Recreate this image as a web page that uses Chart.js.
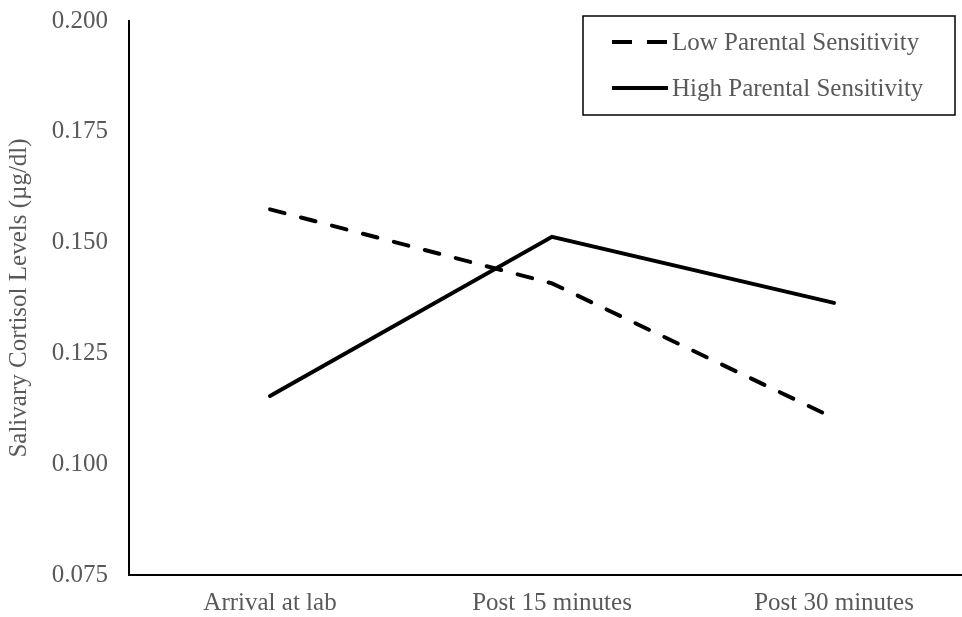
<!DOCTYPE html>
<html>
<head>
<meta charset="utf-8">
<script src="https://cdn.jsdelivr.net/npm/chart.js@4"></script>
<style>
    html, body { margin: 0; padding: 0; background: #ffffff; }
    #wrap { width: 962px; height: 617px; overflow: hidden; position: relative; }
    #chart { display: block; }
</style>
</head>
<body>
<div id="wrap">
    <canvas id="chart" width="975" height="617"></canvas>
</div>
<script>
const categories = ["Arrival at lab", "Post 15 minutes", "Post 30 minutes"];
const lowSensitivity = [0.1575, 0.1408, 0.1104];
const highSensitivity = [0.1154, 0.1513, 0.1364];
const seriesNames = ["Low Parental Sensitivity", "High Parental Sensitivity"];
const yTicks = [0.075, 0.100, 0.125, 0.150, 0.175, 0.200];

const textColor = "#595959";
const serif = "'Liberation Serif', 'Times New Roman', serif";

// legend with a border box, like the Excel original
const boxedLegend = {
    id: "boxedLegend",
    afterDraw(chart) {
        const ctx = chart.ctx;
        const box = { x: 583, y: 16, w: 372, h: 99 };
        ctx.save();
        ctx.strokeStyle = "#000000";
        ctx.lineWidth = 1.5;
        ctx.strokeRect(box.x, box.y, box.w, box.h);

        chart.data.datasets.forEach((ds, i) => {
            const y = box.y + 26 + i * 46;
            ctx.beginPath();
            ctx.lineWidth = 4;
            ctx.strokeStyle = ds.borderColor;
            ctx.lineCap = "butt";
            ctx.setLineDash(ds.borderDash && ds.borderDash.length ? [20, 15] : []);
            ctx.moveTo(box.x + 29, y);
            ctx.lineTo(box.x + 85, y);
            ctx.stroke();
            ctx.setLineDash([]);

            ctx.fillStyle = textColor;
            ctx.font = "25px " + serif;
            ctx.textBaseline = "middle";
            ctx.textAlign = "left";
            ctx.fillText(ds.label, box.x + 89, y + 1);
        });
        ctx.restore();
    },
};

new Chart(document.getElementById("chart"), {
    type: "line",
    data: {
        labels: categories,
        datasets: [
            {
                label: seriesNames[0],
                data: lowSensitivity,
                borderColor: "#000000",
                borderWidth: 4,
                borderDash: [15, 17],
                borderCapStyle: "round",
                pointRadius: 0,
                fill: false,
                tension: 0,
            },
            {
                label: seriesNames[1],
                data: highSensitivity,
                borderColor: "#000000",
                borderWidth: 4,
                borderCapStyle: "round",
                pointRadius: 0,
                fill: false,
                tension: 0,
            },
        ],
    },
    options: {
        responsive: false,
        animation: false,
        layout: {
            padding: { top: 21, right: 0, bottom: 0, left: 0 },
        },
        plugins: {
            legend: { display: false },
            tooltip: { enabled: false },
        },
        scales: {
            x: {
                offset: true,
                afterFit(scale) {
                    scale.height = 42;
                    scale.paddingLeft = 0;
                    scale.paddingRight = 0;
                },
                grid: { display: false, drawTicks: false },
                border: { display: true, color: "#000000", width: 2 },
                ticks: {
                    color: textColor,
                    padding: 13,
                    maxRotation: 0,
                    font: { family: serif, size: 25 },
                },
            },
            y: {
                min: 0.075,
                max: 0.2,
                afterFit(scale) {
                    scale.width = 129;
                    scale.paddingTop = 0;
                    scale.paddingBottom = 0;
                },
                afterBuildTicks(scale) {
                    scale.ticks = yTicks.map((v) => ({ value: v }));
                },
                grid: { display: false, drawTicks: false },
                border: { display: true, color: "#000000", width: 2 },
                ticks: {
                    color: textColor,
                    padding: 21,
                    font: { family: serif, size: 25 },
                    callback: (value) => Number(value).toFixed(3),
                },
                title: {
                    display: true,
                    text: "Salivary Cortisol Levels (µg/dl)",
                    color: textColor,
                    padding: { top: 4, bottom: 0 },
                    font: { family: serif, size: 25 },
                },
            },
        },
    },
    plugins: [boxedLegend],
});
</script>
</body>
</html>
